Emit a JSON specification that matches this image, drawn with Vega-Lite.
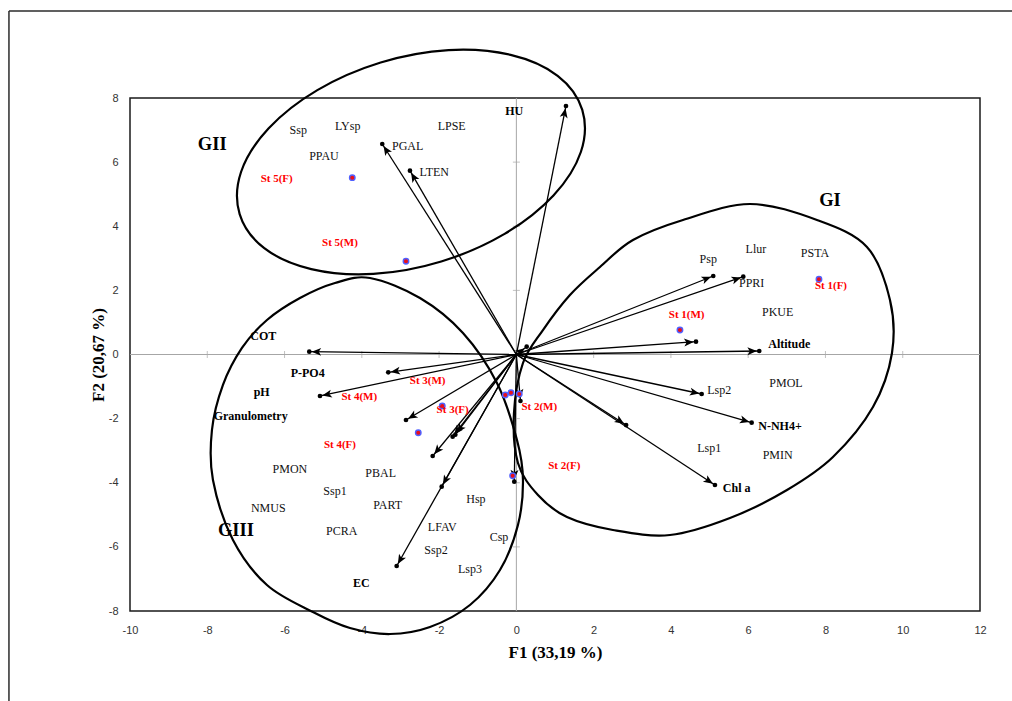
{
  "$schema": "https://vega.github.io/schema/vega-lite/v6.json",
  "width": 850,
  "height": 513,
  "autosize": {"type": "none"},
  "padding": {"left": 130, "top": 98, "right": 32, "bottom": 90},
  "background": "white",
  "config": {"view": {"stroke": "#1a1a1a", "strokeWidth": 1.5}},
  "datasets": {
    "frame": [
      {"x": -13.133, "y": 10.714, "x2": 14, "y2": 10.714},
      {"x": -13.133, "y": 10.714, "x2": -13.133, "y2": -12}
    ],
    "zeroLines": [
      {"x": -10, "y": 0, "x2": 12, "y2": 0},
      {"x": 0, "y": -8, "x2": 0, "y2": 8}
    ],
    "ticksOnX": [
      {"x": -8, "y": 0}, {"x": -6, "y": 0}, {"x": -4, "y": 0}, {"x": -2, "y": 0},
      {"x": 2, "y": 0}, {"x": 4, "y": 0}, {"x": 6, "y": 0}, {"x": 8, "y": 0}, {"x": 10, "y": 0}
    ],
    "ticksOnY": [
      {"x": 0, "y": -6}, {"x": 0, "y": -4}, {"x": 0, "y": -2},
      {"x": 0, "y": 2}, {"x": 0, "y": 4}, {"x": 0, "y": 6}
    ],
    "ellipses": [
      {"g": "GI", "i": 1, "x": 6.046, "y": 4.694},
      {"g": "GI", "i": 2, "x": 7.78, "y": 4.195},
      {"g": "GI", "i": 3, "x": 9.074, "y": 3.353},
      {"g": "GI", "i": 4, "x": 9.67, "y": 1.7},
      {"g": "GI", "i": 5, "x": 9.722, "y": 0.047},
      {"g": "GI", "i": 6, "x": 9.23, "y": -1.638},
      {"g": "GI", "i": 7, "x": 8.194, "y": -3.197},
      {"g": "GI", "i": 8, "x": 7.004, "y": -4.226},
      {"g": "GI", "i": 9, "x": 5.529, "y": -5.1},
      {"g": "GI", "i": 10, "x": 3.976, "y": -5.63},
      {"g": "GI", "i": 11, "x": 2.5, "y": -5.474},
      {"g": "GI", "i": 12, "x": 1.31, "y": -5.069},
      {"g": "GI", "i": 13, "x": 0.559, "y": -4.382},
      {"g": "GI", "i": 14, "x": 0.041, "y": -3.384},
      {"g": "GI", "i": 15, "x": -0.062, "y": -1.825},
      {"g": "GI", "i": 16, "x": 0.171, "y": -0.265},
      {"g": "GI", "i": 17, "x": 0.688, "y": 0.764},
      {"g": "GI", "i": 18, "x": 1.387, "y": 1.856},
      {"g": "GI", "i": 19, "x": 2.164, "y": 2.729},
      {"g": "GI", "i": 20, "x": 3.018, "y": 3.571},
      {"g": "GI", "i": 21, "x": 4.312, "y": 4.195},
      {"g": "GII", "i": 1, "x": 1.706, "y": 7.629},
      {"g": "GII", "i": 2, "x": 1.069, "y": 8.693},
      {"g": "GII", "i": 3, "x": -0.148, "y": 9.345},
      {"g": "GII", "i": 4, "x": -1.755, "y": 9.495},
      {"g": "GII", "i": 5, "x": -3.512, "y": 9.108},
      {"g": "GII", "i": 6, "x": -5.151, "y": 8.247},
      {"g": "GII", "i": 7, "x": -6.416, "y": 7.049},
      {"g": "GII", "i": 8, "x": -7.126, "y": 5.692},
      {"g": "GII", "i": 9, "x": -7.162, "y": 4.379},
      {"g": "GII", "i": 10, "x": -6.525, "y": 3.316},
      {"g": "GII", "i": 11, "x": -5.309, "y": 2.664},
      {"g": "GII", "i": 12, "x": -3.701, "y": 2.514},
      {"g": "GII", "i": 13, "x": -1.944, "y": 2.901},
      {"g": "GII", "i": 14, "x": -0.305, "y": 3.762},
      {"g": "GII", "i": 15, "x": 0.96, "y": 4.959},
      {"g": "GII", "i": 16, "x": 1.669, "y": 6.316},
      {"g": "GIII", "i": 1, "x": -3.789, "y": 2.386},
      {"g": "GIII", "i": 2, "x": -2.495, "y": 1.762},
      {"g": "GIII", "i": 3, "x": -1.382, "y": 0.671},
      {"g": "GIII", "i": 4, "x": -0.502, "y": -0.889},
      {"g": "GIII", "i": 5, "x": 0.016, "y": -2.667},
      {"g": "GIII", "i": 6, "x": 0.171, "y": -3.915},
      {"g": "GIII", "i": 7, "x": 0.041, "y": -5.318},
      {"g": "GIII", "i": 8, "x": -0.424, "y": -6.722},
      {"g": "GIII", "i": 9, "x": -1.201, "y": -7.813},
      {"g": "GIII", "i": 10, "x": -2.236, "y": -8.5},
      {"g": "GIII", "i": 11, "x": -3.272, "y": -8.718},
      {"g": "GIII", "i": 12, "x": -4.307, "y": -8.531},
      {"g": "GIII", "i": 13, "x": -5.265, "y": -8.032},
      {"g": "GIII", "i": 14, "x": -6.455, "y": -7.19},
      {"g": "GIII", "i": 15, "x": -7.335, "y": -5.786},
      {"g": "GIII", "i": 16, "x": -7.853, "y": -3.915},
      {"g": "GIII", "i": 17, "x": -7.879, "y": -2.355},
      {"g": "GIII", "i": 18, "x": -7.594, "y": -0.951},
      {"g": "GIII", "i": 19, "x": -7.102, "y": 0.203},
      {"g": "GIII", "i": 20, "x": -6.455, "y": 1.076},
      {"g": "GIII", "i": 21, "x": -5.601, "y": 1.762},
      {"g": "GIII", "i": 22, "x": -4.695, "y": 2.23}
    ],
    "vectors": [
      {"id": 1, "x": 1.284, "y": 7.751},
      {"id": 2, "x": -3.471, "y": 6.566},
      {"id": 3, "x": -2.754, "y": 5.733},
      {"id": 4, "x": 5.096, "y": 2.449},
      {"id": 5, "x": 5.873, "y": 2.427},
      {"id": 6, "x": 4.649, "y": 0.399},
      {"id": 7, "x": 6.287, "y": 0.109},
      {"id": 8, "x": 4.796, "y": -1.232},
      {"id": 9, "x": 6.09, "y": -2.127},
      {"id": 10, "x": 2.84, "y": -2.2},
      {"id": 11, "x": 5.14, "y": -4.07},
      {"id": 12, "x": -5.36, "y": 0.087},
      {"id": 13, "x": -3.316, "y": -0.555},
      {"id": 14, "x": -5.083, "y": -1.294},
      {"id": 15, "x": -2.857, "y": -2.043},
      {"id": 16, "x": -1.649, "y": -2.563},
      {"id": 17, "x": -1.58, "y": -2.5},
      {"id": 18, "x": -2.166, "y": -3.166},
      {"id": 19, "x": -3.098, "y": -6.597},
      {"id": 20, "x": -1.933, "y": -4.123},
      {"id": 21, "x": -0.054, "y": -3.967},
      {"id": 22, "x": 0.106, "y": -1.45},
      {"id": 23, "x": 0.267, "y": 0.243}
    ],
    "stations": [
      {"station": "St 5(F)", "x": -4.247, "y": 5.515},
      {"station": "St 5(M)", "x": -2.857, "y": 2.907},
      {"station": "St 1(F)", "x": 7.832, "y": 2.346},
      {"station": "St 1(M)", "x": 4.234, "y": 0.764},
      {"station": "St 3(F)", "x": -1.918, "y": -1.606},
      {"station": "St 4(F)", "x": -2.539, "y": -2.439},
      {"station": "St 4(M)", "x": -0.287, "y": -1.263},
      {"station": "St 3(M)", "x": -0.14, "y": -1.192},
      {"station": "St 2(M)", "x": 0.075, "y": -1.232},
      {"station": "St 2(F)", "x": -0.096, "y": -3.78}
    ],
    "labels": [
      {"label": "Ssp", "kind": "species", "x": -5.645, "y": 7.002},
      {"label": "LYsp", "kind": "species", "x": -4.366, "y": 7.127},
      {"label": "PGAL", "kind": "species", "x": -2.813, "y": 6.513},
      {"label": "LPSE", "kind": "species", "x": -1.675, "y": 7.127},
      {"label": "PPAU", "kind": "species", "x": -4.98, "y": 6.201},
      {"label": "LTEN", "kind": "species", "x": -2.125, "y": 5.683},
      {"label": "Psp", "kind": "species", "x": 4.967, "y": 2.969},
      {"label": "Llur", "kind": "species", "x": 6.201, "y": 3.281},
      {"label": "PSTA", "kind": "species", "x": 7.729, "y": 3.157},
      {"label": "PPRI", "kind": "species", "x": 6.09, "y": 2.24},
      {"label": "PKUE", "kind": "species", "x": 6.763, "y": 1.316},
      {"label": "PMOL", "kind": "species", "x": 6.978, "y": -0.88},
      {"label": "Lsp2", "kind": "species", "x": 5.252, "y": -1.107},
      {"label": "Lsp1", "kind": "species", "x": 4.993, "y": -2.926},
      {"label": "PMIN", "kind": "species", "x": 6.763, "y": -3.135},
      {"label": "PMON", "kind": "species", "x": -5.86, "y": -3.571},
      {"label": "PBAL", "kind": "species", "x": -3.512, "y": -3.706},
      {"label": "Ssp1", "kind": "species", "x": -4.695, "y": -4.258},
      {"label": "NMUS", "kind": "species", "x": -6.421, "y": -4.779},
      {"label": "PART", "kind": "species", "x": -3.331, "y": -4.694},
      {"label": "PCRA", "kind": "species", "x": -4.522, "y": -5.505},
      {"label": "LFAV", "kind": "species", "x": -1.918, "y": -5.39},
      {"label": "Hsp", "kind": "species", "x": -1.046, "y": -4.517},
      {"label": "Ssp2", "kind": "species", "x": -2.081, "y": -6.098},
      {"label": "Csp", "kind": "species", "x": -0.45, "y": -5.683},
      {"label": "Lsp3", "kind": "species", "x": -1.201, "y": -6.69},
      {"label": "HU", "kind": "variable", "x": -0.054, "y": 7.595},
      {"label": "COT", "kind": "variable", "x": -6.551, "y": 0.577},
      {"label": "P-PO4", "kind": "variable", "x": -5.402, "y": -0.568},
      {"label": "pH", "kind": "variable", "x": -6.592, "y": -1.16},
      {"label": "Granulometry", "kind": "variable", "x": -6.877, "y": -1.909},
      {"label": "EC", "kind": "variable", "x": -4.014, "y": -7.118},
      {"label": "Altitude", "kind": "variable", "x": 7.063, "y": 0.328},
      {"label": "N-NH4+", "kind": "variable", "x": 6.823, "y": -2.23},
      {"label": "Chl a", "kind": "variable", "x": 5.702, "y": -4.173},
      {"label": "St 5(F)", "kind": "station", "x": -6.204, "y": 5.465},
      {"label": "St 5(M)", "kind": "station", "x": -4.566, "y": 3.468},
      {"label": "St 1(F)", "kind": "station", "x": 8.143, "y": 2.137},
      {"label": "St 1(M)", "kind": "station", "x": 4.408, "y": 1.223},
      {"label": "St 3(M)", "kind": "station", "x": -2.296, "y": -0.817},
      {"label": "St 4(M)", "kind": "station", "x": -4.066, "y": -1.316},
      {"label": "St 3(F)", "kind": "station", "x": -1.649, "y": -1.731},
      {"label": "St 4(F)", "kind": "station", "x": -4.566, "y": -2.832},
      {"label": "St 2(M)", "kind": "station", "x": 0.593, "y": -1.628},
      {"label": "St 2(F)", "kind": "station", "x": 1.24, "y": -3.478},
      {"label": "GII", "kind": "group", "x": -7.871, "y": 6.556},
      {"label": "GI", "kind": "group", "x": 8.117, "y": 4.819},
      {"label": "GIII", "kind": "group", "x": -7.257, "y": -5.474}
    ]
  },
  "encoding": {
    "x": {
      "field": "x",
      "type": "quantitative",
      "scale": {"domain": [-10, 12], "nice": false, "zero": false},
      "axis": {
        "values": [-10, -8, -6, -4, -2, 0, 2, 4, 6, 8, 10, 12],
        "labelExpr": "datum.value < 0 ? '-' + abs(datum.value) : '' + datum.value",
        "grid": false,
        "domain": false,
        "ticks": false,
        "labelFlush": false,
        "labelOverlap": false,
        "labelPadding": 13,
        "labelFont": "Liberation Sans Narrow, Liberation Sans, sans-serif",
        "labelFontSize": 11,
        "labelColor": "#333333",
        "title": "F1 (33,19 %)",
        "titleFont": "Liberation Serif",
        "titleFontSize": 17,
        "titleFontWeight": "bold",
        "titleColor": "#000000",
        "titlePadding": 9
      }
    },
    "y": {
      "field": "y",
      "type": "quantitative",
      "scale": {"domain": [-8, 8], "nice": false, "zero": false},
      "axis": {
        "values": [-8, -6, -4, -2, 0, 2, 4, 6, 8],
        "labelExpr": "datum.value < 0 ? '-' + abs(datum.value) : '' + datum.value",
        "grid": false,
        "domain": false,
        "ticks": false,
        "labelFlush": false,
        "labelOverlap": false,
        "labelPadding": 12,
        "labelFont": "Liberation Sans Narrow, Liberation Sans, sans-serif",
        "labelFontSize": 11,
        "labelColor": "#333333",
        "title": "F2 (20,67 %)",
        "titleFont": "Liberation Serif",
        "titleFontSize": 17,
        "titleFontWeight": "bold",
        "titleColor": "#000000",
        "titlePadding": 1
      }
    }
  },
  "layer": [
    {
      "data": {"name": "frame"},
      "mark": {"type": "rule", "color": "#2b2b2b", "strokeWidth": 1.5},
      "encoding": {"x2": {"field": "x2"}, "y2": {"field": "y2"}}
    },
    {
      "data": {"name": "zeroLines"},
      "mark": {"type": "rule", "color": "#a6a6a6", "strokeWidth": 1},
      "encoding": {"x2": {"field": "x2"}, "y2": {"field": "y2"}}
    },
    {
      "data": {"name": "ticksOnX"},
      "mark": {"type": "tick", "orient": "vertical", "size": 7, "thickness": 1, "color": "#a6a6a6"}
    },
    {
      "data": {"name": "ticksOnY"},
      "mark": {"type": "tick", "orient": "horizontal", "size": 7, "thickness": 1, "color": "#a6a6a6"}
    },
    {
      "data": {"name": "ellipses"},
      "mark": {"type": "line", "interpolate": "cardinal-closed", "color": "#000000", "strokeWidth": 2.2},
      "encoding": {"detail": {"field": "g"}, "order": {"field": "i", "type": "quantitative"}}
    },
    {
      "data": {"name": "vectors"},
      "mark": {"type": "rule", "color": "#000000", "strokeWidth": 1.3},
      "encoding": {"x2": {"datum": 0}, "y2": {"datum": 0}}
    },
    {
      "data": {"name": "vectors"},
      "transform": [
        {"calculate": "atan2(datum.x * 38.636, datum.y * 32.06) * 180 / PI", "as": "heading"}
      ],
      "mark": {
        "type": "point",
        "shape": "M0,0.25L0.42,1.25L0,1.0L-0.42,1.25Z",
        "filled": true,
        "color": "#000000",
        "opacity": 1,
        "size": 360
      },
      "encoding": {"angle": {"field": "heading", "type": "quantitative", "scale": null}}
    },
    {
      "data": {"name": "vectors"},
      "mark": {"type": "circle", "color": "#000000", "opacity": 1, "size": 22}
    },
    {
      "data": {"name": "stations"},
      "mark": {"type": "circle", "fill": "#e8101a", "stroke": "#5060ff", "strokeWidth": 1.4, "opacity": 1, "size": 30}
    },
    {
      "data": {"name": "labels"},
      "transform": [{"filter": "datum.kind === 'species'"}],
      "mark": {"type": "text", "font": "Liberation Serif", "fontSize": 12, "color": "#111111", "align": "center", "baseline": "middle"},
      "encoding": {"text": {"field": "label"}}
    },
    {
      "data": {"name": "labels"},
      "transform": [{"filter": "datum.kind === 'variable'"}],
      "mark": {"type": "text", "font": "Liberation Serif", "fontSize": 12, "fontWeight": "bold", "color": "#000000", "align": "center", "baseline": "middle"},
      "encoding": {"text": {"field": "label"}}
    },
    {
      "data": {"name": "labels"},
      "transform": [{"filter": "datum.kind === 'station'"}],
      "mark": {"type": "text", "font": "Liberation Serif", "fontSize": 11, "fontWeight": "bold", "color": "#ff0000", "align": "center", "baseline": "middle"},
      "encoding": {"text": {"field": "label"}}
    },
    {
      "data": {"name": "labels"},
      "transform": [{"filter": "datum.kind === 'group'"}],
      "mark": {"type": "text", "font": "Liberation Serif", "fontSize": 18.5, "fontWeight": "bold", "color": "#000000", "align": "center", "baseline": "middle"},
      "encoding": {"text": {"field": "label"}}
    },
    {
      "data": {"values": [{"caption": "Variables (axis F1 and F2 : 53,86 %)"}]},
      "mark": {"type": "text", "font": "Liberation Serif", "fontSize": 16.5, "fontWeight": "bold", "color": "#000000", "align": "center", "baseline": "alphabetic"},
      "encoding": {
        "x": {"datum": 0},
        "y": {"datum": 9.84},
        "text": {"field": "caption"}
      }
    }
  ]
}
